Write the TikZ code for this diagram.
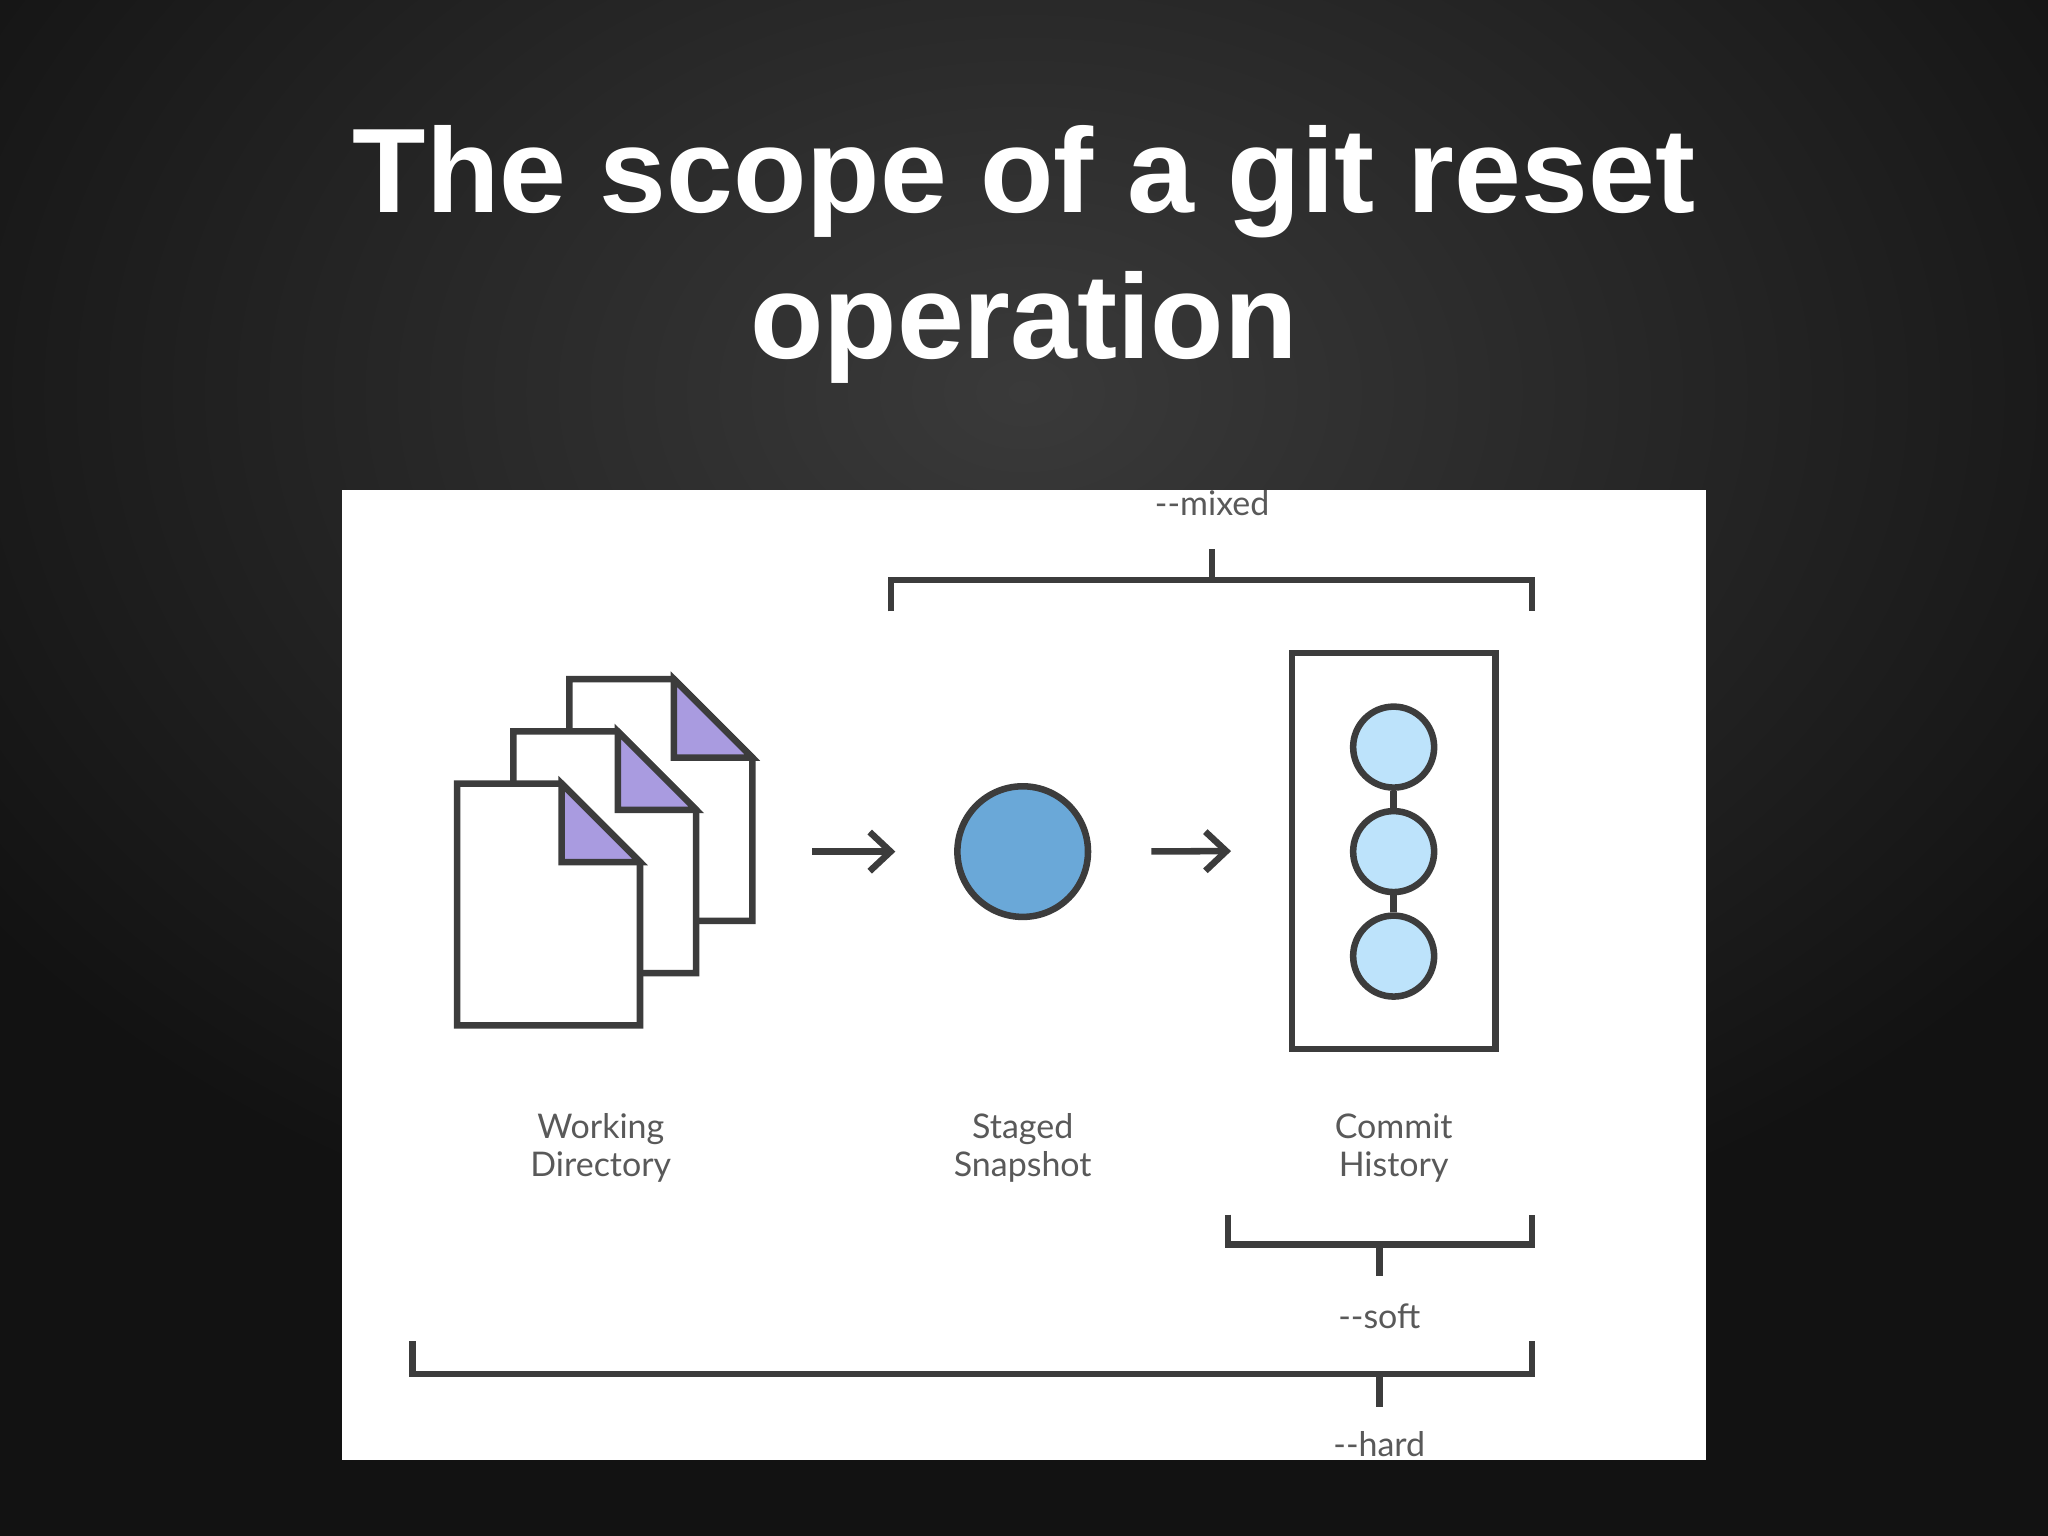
\documentclass[tikz,border=0pt]{standalone}
\usepackage{fontspec}
\setmainfont{Liberation Sans}
\newfontfamily\lblfont{Lato}
\usetikzlibrary{arrows.meta}
\definecolor{ink}{HTML}{3C3C3C}
\definecolor{purp}{HTML}{A99BE0}
\definecolor{blueA}{HTML}{6AA8D8}
\definecolor{blueB}{HTML}{BDE3FB}
\definecolor{bgA}{HTML}{3A3A3A}
\definecolor{bgB}{HTML}{121212}
\tikzset{
  thk/.style={draw=ink,line width=2.5pt,line join=miter},
  lbl/.style={font=\lblfont\fontsize{13}{14.5}\selectfont,text=ink!85,align=center},
  arr/.style={thk,-{Straight Barb[length=8pt,width=15pt,line width=2.5pt]}},
  brk/.style={thk,line cap=butt}
}
\begin{document}
\begin{tikzpicture}[x=0.5pt,y=-0.5pt]
\useasboundingbox (0,0) rectangle (1568,1176);
\fill[bgB] (0,0) rectangle (1568,1176);
\shade[inner color=bgA,outer color=bgB] (-200,-400) rectangle (1768,1000);
\node[text=white,font=\bfseries\fontsize{46}{56}\selectfont,align=center] (title) at (784,195) {The scope of a git reset\\operation};
\fill[white] (262,375) rectangle (1306,1118);
% documents
\foreach \dx/\dy/\n in {86/-80/c,43/-40/b,0/0/a}{
  \begin{scope}[shift={(\dx,\dy)}]
  \filldraw[thk,fill=white] (350,600)--(430,600)--(490,660)--(490,785)--(350,785)--cycle;
  \filldraw[thk,fill=purp] (430,600)--(490,660)--(430,660)--cycle;
  \end{scope}}
\coordinate (docs) at (576,652);
\node[circle,draw=ink,line width=2.5pt,fill=blueA,minimum size=50pt,inner sep=0] (staged) at (783,652) {};
\node[draw=ink,line width=2.5pt,minimum width=78pt,minimum height=151.5pt,inner sep=0] (hist) at (1067,651.5) {};
\node[circle,draw=ink,line width=2.5pt,fill=blueB,minimum size=31pt,inner sep=0] (c1) at (1067,572) {};
\node[circle,draw=ink,line width=2.5pt,fill=blueB,minimum size=31pt,inner sep=0] (c2) at (1067,652) {};
\node[circle,draw=ink,line width=2.5pt,fill=blueB,minimum size=31pt,inner sep=0] (c3) at (1067,732) {};
\draw[thk] (c1)--(c2) (c2)--(c3);
\draw[arr,shorten <=23pt,shorten >=22.5pt] (docs)--(staged.west);
\draw[arr,shorten <=23pt,shorten >=22pt] (staged.east)--(hist.west);
\node[lbl] (l1) at (460,879) {Working\\Directory};
\node[lbl] (l2) at (783,879) {Staged\\Snapshot};
\node[lbl] (l3) at (1067,879) {Commit\\History};
% brackets
\draw[brk] (682,468)--(682,444)--(1173,444)--(1173,468) (928,444)--(928,420);
\node[lbl] (mixed) at (928,385) {-{}-mixed};
\draw[brk] (940,930)--(940,953)--(1173,953)--(1173,930) (1056,953)--(1056,977);
\node[lbl] (soft) at (1056,1008) {-{}-soft};
\draw[brk] (316,1027)--(316,1052)--(1173,1052)--(1173,1027) (1056,1052)--(1056,1077);
\node[lbl] (hard) at (1056,1106) {-{}-hard};
\end{tikzpicture}
\end{document}
